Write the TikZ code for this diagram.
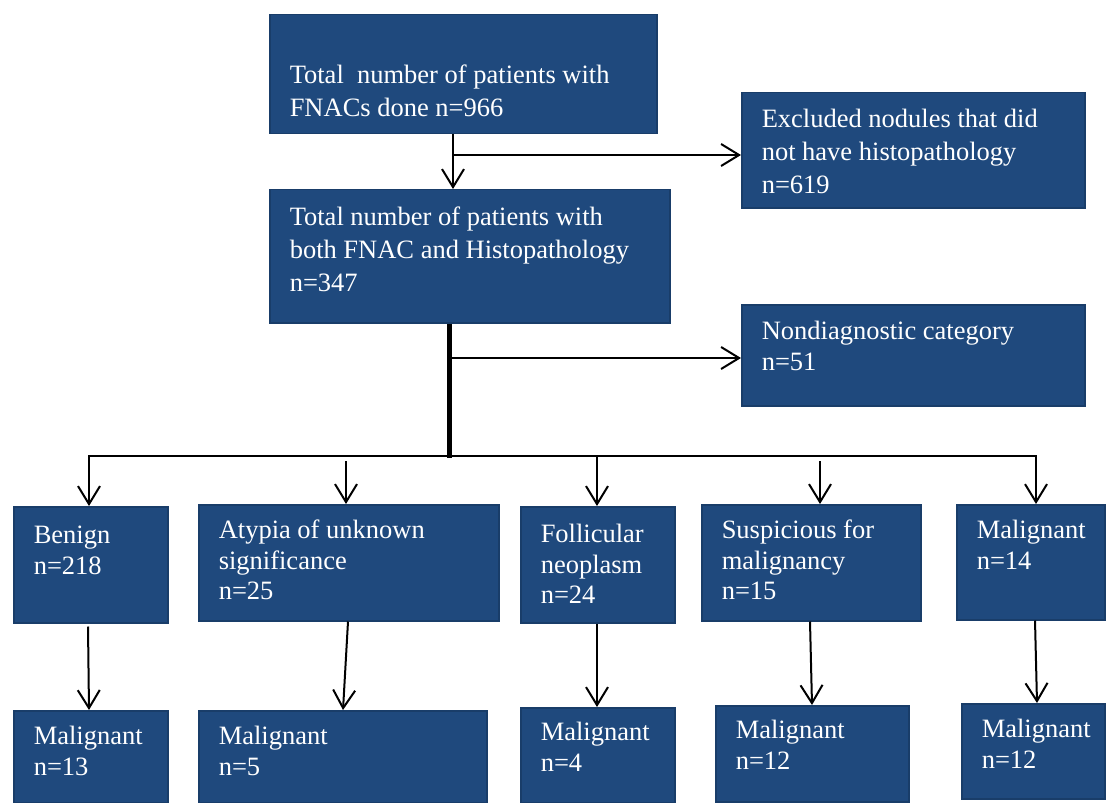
\documentclass[tikz,border=0pt]{standalone}
\usepackage{fontspec}
\setmainfont{Liberation Serif}
\usetikzlibrary{arrows.meta,calc}
\definecolor{boxblue}{HTML}{1F497D}
\definecolor{boxedge}{HTML}{193D69}
\newlength\px
\setlength\px{0.5pt}
\tikzset{
blubox/.style={draw=boxedge, fill=boxblue, line width=0.75pt, text=white, inner sep=0pt, anchor=north west},
bigbox/.style={blubox, font=\fontsize{13.25pt}{16.4pt}\selectfont},
smallbox/.style={blubox, font=\fontsize{13.25pt}{15.2pt}\selectfont},
arr/.style={-{Straight Barb[length=9pt,width=11pt]}, line width=1pt},
link/.style={line width=1pt}
}
\newcommand{\flowbox}[7][bigbox]{%
  \node[#1] (#2) at (#3) {\parbox[t][#5\px][t]{#4\px}{\raggedright\leftskip=20\px
    \vspace*{\dimexpr#6\px-\ht\strutbox\relax}\leavevmode\strut #7}};}

\begin{document}
\begin{tikzpicture}[x=0.5pt,y=-0.5pt]
  \useasboundingbox (0,0) rectangle (1106,802);
  \flowbox{fnac}{269,14}{387}{119}{69}{Total~ number of patients with\\FNACs done n=966}
  \flowbox{both}{269,189}{400}{133}{36}{Total number of patients with\\both FNAC and Histopathology\\n=347}
  \flowbox{excl}{741,92}{343}{115}{35}{Excluded nodules that did\\not have histopathology\\n=619}
  \flowbox[smallbox]{nondiag}{741,304}{343}{101}{35}{Nondiagnostic category\\n=51}

  \flowbox[smallbox]{benign}{13,506}{154}{116}{37}{Benign\\n=218}
  \flowbox[smallbox]{atypia}{198,504}{300}{116}{34}{Atypia of unknown\\significance\\n=25}
  \flowbox[smallbox]{follic}{520,506}{154}{116}{36}{Follicular\\neoplasm\\n=24}
  \flowbox[smallbox]{susp}{701,504}{219}{116}{34}{Suspicious for\\malignancy\\n=15}
  \flowbox[smallbox]{malig}{956,504}{148}{115}{34}{Malignant\\n=14}

  \flowbox[smallbox]{mben}{13,710}{154}{92}{34}{Malignant\\n=13}
  \flowbox[smallbox]{matyp}{198,710}{288}{92}{34}{Malignant\\n=5}
  \flowbox[smallbox]{mfol}{520,707}{154}{95}{33}{Malignant\\n=4}
  \flowbox[smallbox]{msus}{715,705}{193}{96}{33}{Malignant\\n=12}
  \flowbox[smallbox]{mmal}{961,703}{143}{95}{34}{Malignant\\n=12}

  \coordinate (j1) at (453,155);
  \draw[link] (fnac.south -| j1) -- (j1);
  \draw[arr] (j1) -- (both.north -| j1);
  \draw[arr] (j1) -- (excl.west |- j1);

  \coordinate (j2) at (449,358);
  \coordinate (hub) at (449,456);
  \draw[line width=2.5pt] (both.south -| j2) -- ($(hub)+(0,2)$);
  \draw[arr] (j2) -- (nondiag.west |- j2);

  \coordinate (busl) at (89,456);
  \coordinate (busr) at (1036,456);
  \coordinate (ta) at (346,461);
  \coordinate (tf) at (597,456);
  \coordinate (ts) at (820,461);
  \draw[arr] (hub) -| (benign.north -| busl);
  \draw[arr] (hub) -| (malig.north -| busr);
  \draw[arr] (ta) -- (atypia.north -| ta);
  \draw[arr] (tf) -- (follic.north -| tf);
  \draw[arr] (ts) -- (susp.north -| ts);

  \draw[arr] ($(benign.south west)+(75,3)$) -- ($(mben.north west)+(76,0)$);
  \draw[arr] ($(atypia.south west)+(150,0)$) -- ($(matyp.north west)+(145,0)$);
  \draw[arr] ($(follic.south west)+(77,0)$) -- ($(mfol.north west)+(77,0)$);
  \draw[arr] ($(susp.south west)+(109,0)$) -- ($(msus.north west)+(97,0)$);
  \draw[arr] ($(malig.south west)+(79,0)$) -- ($(mmal.north west)+(76,0)$);
\end{tikzpicture}
\end{document}
